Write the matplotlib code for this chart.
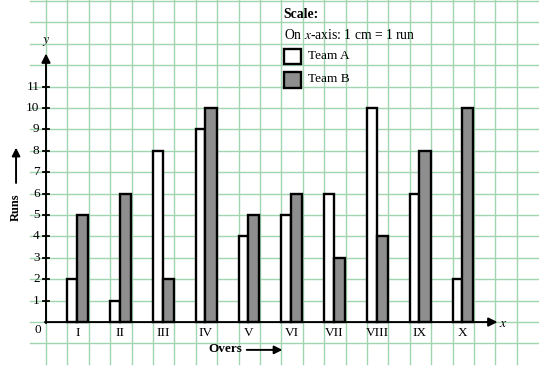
import matplotlib
matplotlib.use('Agg')
import matplotlib.pyplot as plt
from matplotlib.patches import Rectangle

plt.rcParams['font.family'] = ['Liberation Serif', 'DejaVu Serif']
plt.rcParams['mathtext.fontset'] = 'stix'

# Data
overs = ['I', 'II', 'III', 'IV', 'V', 'VI', 'VII', 'VIII', 'IX', 'X']
team_a = [2, 1, 8, 9, 4, 5, 6, 10, 6, 2]
team_b = [5, 6, 2, 10, 5, 6, 3, 4, 8, 10]
y_ticks = list(range(1, 12))

grid_col = '#9fd6b0'
bar_gray = '#8e8e8e'

fig = plt.figure(figsize=(5.39, 3.73), dpi=100)
ax = fig.add_axes([0, 0, 1, 1])
ax.set_xlim(-2.15, 23.04)
ax.set_ylim(-2.38, 15.05)
ax.axis('off')

# graph paper
for gx in range(0, 23):
    ax.plot([gx, gx], [-1.96, 15.1], color=grid_col, lw=1.0, zorder=0)
for gy in range(-1, 16):
    ax.plot([-0.75, 23.1], [gy, gy], color=grid_col, lw=1.0, zorder=0)

# bars
starts = [2 * i + 1 for i in range(len(overs))]
ax.bar([s for s in starts], team_a, width=0.45, align='edge',
       facecolor='white', edgecolor='black', lw=1.7, zorder=3)
ax.bar([s + 0.45 for s in starts], team_b, width=0.52, align='edge',
       facecolor=bar_gray, edgecolor='black', lw=1.7, zorder=3)

for s, lab in zip(starts, overs):
    ax.text(s + 0.47, -0.5, lab, ha='center', va='center', fontsize=9.5)

# axes with arrows
ax.annotate('', xy=(21.1, 0), xytext=(-0.05, 0),
            arrowprops=dict(arrowstyle='-|>', lw=1.4, color='k',
                            mutation_scale=13, shrinkA=0, shrinkB=0), zorder=5)
ax.annotate('', xy=(0, 12.55), xytext=(0, -0.05),
            arrowprops=dict(arrowstyle='-|>', lw=1.4, color='k',
                            mutation_scale=13, shrinkA=0, shrinkB=0), zorder=5)
ax.text(21.35, -0.05, '$x$', ha='center', va='center', fontsize=10)
ax.text(0, 13.1, '$y$', ha='center', va='center', fontsize=10)
ax.text(-0.37, -0.37, '0', ha='center', va='center', fontsize=9.5)

for t in y_ticks:
    ax.plot([-0.14, 0.14], [t, t], color='k', lw=1.3, zorder=5)
    ax.text(-0.3, t, str(t), ha='right', va='center', fontsize=9.5)

# axis titles
ax.text(-1.4, 5.37, 'Runs', rotation=90, ha='center', va='center',
        fontsize=9, fontweight='bold')
ax.annotate('', xy=(-1.4, 8.15), xytext=(-1.4, 6.5),
            arrowprops=dict(arrowstyle='-|>', lw=1.4, color='k',
                            mutation_scale=12, shrinkA=0, shrinkB=0))
ax.text(8.4, -1.26, 'Overs', ha='center', va='center',
        fontsize=9.5, fontweight='bold')
ax.annotate('', xy=(11.05, -1.3), xytext=(9.38, -1.3),
            arrowprops=dict(arrowstyle='-|>', lw=1.4, color='k',
                            mutation_scale=12, shrinkA=0, shrinkB=0))

# scale / legend
ax.text(11.1, 14.39, 'Scale:', ha='left', va='center', fontsize=9.8, fontweight='bold')
ax.text(11.1, 13.41, 'On $x$-axis: 1 cm = 1 run', ha='left', va='center', fontsize=9.8)
ax.add_patch(Rectangle((11.14, 12.04), 0.78, 0.72, facecolor='white',
                       edgecolor='black', lw=1.7, zorder=3))
ax.add_patch(Rectangle((11.14, 10.92), 0.78, 0.75, facecolor=bar_gray,
                       edgecolor='black', lw=1.7, zorder=3))
ax.text(12.26, 12.43, 'Team A', ha='left', va='center', fontsize=9.5)
ax.text(12.26, 11.34, 'Team B', ha='left', va='center', fontsize=9.5)

fig.savefig('out.png', dpi=100)
